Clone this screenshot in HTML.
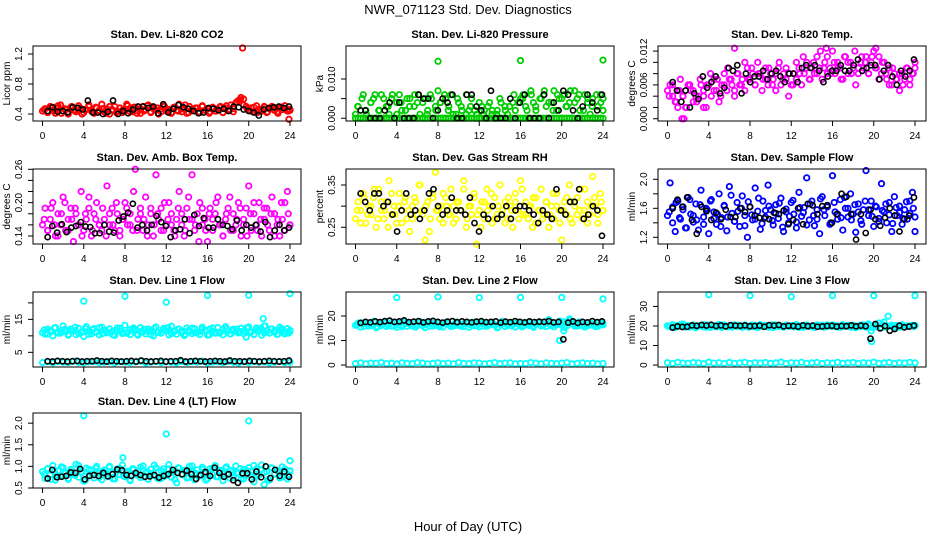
<!DOCTYPE html>
<html><head><meta charset="utf-8"><style>
html,body{margin:0;padding:0;background:#fff;}
svg{display:block;font-family:"Liberation Sans",Arial,sans-serif;}
</style></head><body>
<svg id="chart" width="936" height="540" viewBox="0 0 936 540" xmlns="http://www.w3.org/2000/svg">
<rect width="936" height="540" fill="#fff"/>
<text x="468" y="14" text-anchor="middle" font-size="13">NWR_071123  Std. Dev. Diagnostics</text>
<text x="468" y="531" text-anchor="middle" font-size="13">Hour of Day (UTC)</text>
<g id="panels"></g>
</svg>
<script>
const xTicks=[0,4,8,12,16,20,24];
const co2Red=[0.44,0.47,0.42,0.50,0.45,0.41,0.48,0.52,0.44,0.46,0.40,0.49,0.45,0.43,0.51,0.47,0.42,0.46,0.50,0.44,0.41,0.48,0.45,0.53,0.43,0.47,0.40,0.46,0.50,0.44,0.48,0.42,0.45,0.51,0.47,0.43,0.49,0.44,0.41,0.50,0.46,0.52,0.43,0.48,0.45,0.40,0.47,0.51,0.44,0.46,0.42,0.49,0.45,0.53,0.43,0.47,0.41,0.50,0.46,0.44,0.48,0.42,0.51,0.45,0.47,0.43,0.49,0.44,0.46,0.50,0.42,0.48,0.45,0.52,0.47,0.55,0.58,0.62,0.60,0.50,0.45,0.48,0.43,0.51,0.46,0.44,0.49,0.42,0.47,0.50,0.45,0.43,0.48,0.46,0.51,0.44,0.45];
const co2Red2=[0.46,0.42,0.49,0.44,0.51,0.41,0.47,0.43,0.50,0.45,0.48,0.40,0.46,0.52,0.43,0.49,0.44,0.47,0.41,0.50,0.45,0.42,0.48,0.46,0.53,0.43,0.49,0.41,0.47,0.44,0.51,0.42,0.46,0.48,0.43,0.50,0.45,0.41,0.49,0.44,0.47,0.52,0.42,0.46,0.48,0.43,0.50,0.45,0.41,0.47,0.44,0.49,0.42,0.51,0.46,0.43,0.56,0.59,0.52,0.47,0.44,0.49,0.42,0.46,0.50,0.43,0.48,0.45,0.41,0.49,0.47,0.44,0.46];
const co2Black=[0.44,0.49,0.43,0.44,0.42,0.49,0.48,0.46,0.58,0.42,0.42,0.40,0.43,0.58,0.40,0.44,0.41,0.46,0.50,0.50,0.48,0.50,0.41,0.53,0.42,0.47,0.52,0.49,0.47,0.44,0.41,0.42,0.48,0.47,0.45,0.47,0.44,0.50,0.49,0.46,0.44,0.42,0.38,0.46,0.48,0.49,0.50,0.48,0.50];
const co2OutHours=[19.4,23.9];
const co2OutVals=[1.28,0.33];

const presGreen=[0.001,0.003,0,0.006,0.002,0,0.004,0.005,0,0.002,0.006,0,0.003,0.001,0.005,0,0.004,0.006,0.002,0,0.005,0.003,0,0.006,0.004,0.001,0,0.005,0.002,0.006,0,0.003,0.007,0.004,0,0.005,0.002,0.006,0,0.001,0.004,0.003,0,0.006,0.002,0.005,0,0.001,0,0.003,0.002,0,0.004,0.001,0,0.002,0.005,0,0.003,0.001,0,0.004,0.002,0,0.005,0.006,0.003,0,0.007,0.004,0.002,0,0.005,0.006,0.003,0,0.004,0.007,0.002,0.005,0,0.006,0.003,0.004,0,0.007,0.005,0.002,0,0.006,0.004,0.001,0.005,0,0.003,0.006,0.002];
const presGreen2=[0.003,0.005,0.001,0.004,0.006,0.002,0.005,0.003,0.006,0.001,0.004,0.002,0.005,0.003,0.006,0.004,0.001,0.005,0.002,0.004,0.006,0.003,0.001,0.005,0.002,0.001,0.003,0.002,0.004,0.001,0.003,0.002,0.001,0.004,0.002,0.003,0.006,0.004,0.005,0.002,0.006,0.003,0.005,0.007,0.004,0.002,0.006,0.005,0.003,0.007,0.004,0.006,0.002,0.005,0.003,0.006,0.004,0.005];
const presZero=[0,0,0,0,0,0,0,0,0,0,0,0,0,0,0,0,0,0,0,0,0,0,0,0,0,0,0,0,0,0,0,0,0,0,0,0,0,0,0,0,0,0,0,0,0,0,0,0,0,0,0,0,0,0,0,0,0,0,0,0,0,0,0,0,0,0,0,0,0,0,0,0,0,0,0,0,0,0,0,0,0,0,0,0,0,0,0,0,0,0,0,0,0,0,0,0,0];
const presBlack=[0.002,0.002,0,0,0,0.002,0.004,0,0.004,0,0,0,0.006,0.005,0.005,0,0.002,0.005,0.004,0.006,0,0,0.006,0.006,0.003,0.002,0,0.007,0,0,0,0.005,0,0.004,0.006,0,0,0,0.006,0,0.004,0.002,0.007,0.006,0.002,0,0.003,0.006,0.004,0.002,0.006];
const presOutHours=[8,16,24];
const presOutVals=[0.0145,0.0147,0.0148];

const tempMag=[0.005,0.006,0.004,0.003,0.005,0.007,0.004,0.002,0.006,0.005,0.003,0.004,0.004,0.006,0.005,0.002,0.006,0.004,0.007,0.005,0.003,0.006,0.008,0.005,0.007,0.006,0.004,0.008,0.006,0.007,0.005,0.009,0.007,0.008,0.006,0.010,0.008,0.007,0.009,0.006,0.008,0.007,0.005,0.009,0.006,0.008,0.007,0.004,0.006,0.008,0.007,0.009,0.006,0.008,0.010,0.007,0.009,0.008,0.011,0.009,0.007,0.010,0.008,0.009,0.012,0.008,0.010,0.009,0.007,0.011,0.008,0.010,0.009,0.006,0.008,0.010,0.009,0.011,0.008,0.010,0.012,0.009,0.011,0.008,0.010,0.007,0.009,0.006,0.008,0.007,0.005,0.008,0.007,0.009,0.006,0.008,0.010];
const tempMag2=[0.004,0.006,0.003,0.005,0.004,0.002,0.006,0.005,0.003,0.007,0.004,0.006,0.008,0.005,0.007,0.004,0.006,0.009,0.007,0.005,0.008,0.006,0.010,0.007,0.009,0.006,0.008,0.005,0.007,0.009,0.006,0.008,0.010,0.007,0.009,0.008,0.006,0.010,0.008,0.011,0.009,0.007,0.010,0.008,0.012,0.009,0.011,0.008,0.010,0.009,0.007,0.011,0.010,0.008,0.012,0.009,0.011,0.010,0.008,0.011,0.009,0.007,0.010,0.008,0.006,0.009,0.007,0.008,0.006,0.009,0.007,0.008,0.009];
const tempBlack=[0.0065,0.005,0.003,0.005,0.002,0.0045,0.0035,0.0075,0.0055,0.0065,0.0075,0.0045,0.0055,0.009,0.0085,0.0095,0.0045,0.008,0.0065,0.0075,0.0075,0.0085,0.007,0.008,0.0085,0.0075,0.0065,0.008,0.008,0.0065,0.009,0.0095,0.009,0.0095,0.0085,0.0065,0.0075,0.0085,0.0085,0.0095,0.0085,0.0085,0.0095,0.0105,0.0085,0.009,0.0095,0.0095,0.007,0.0085,0.0095,0.0075,0.006,0.0085,0.0075,0.0085,0.0105];
const tempOutHours=[1.4,1.6,6.5,15.4,20.2,1.0,3.5];
const tempOutVals=[0,0,0.0125,0.0125,0.0125,0.002,0.002];

const ambMag=[0.16,0.19,0.15,0.17,0.20,0.14,0.18,0.16,0.21,0.15,0.17,0.19,0.13,0.18,0.16,0.22,0.15,0.17,0.19,0.14,0.18,0.20,0.16,0.15,0.17,0.23,0.16,0.19,0.15,0.18,0.14,0.17,0.20,0.16,0.18,0.15,0.26,0.17,0.19,0.15,0.21,0.16,0.18,0.14,0.25,0.17,0.19,0.15,0.16,0.20,0.18,0.15,0.17,0.22,0.16,0.14,0.19,0.17,0.25,0.15,0.18,0.20,0.16,0.17,0.13,0.19,0.15,0.18,0.21,0.16,0.14,0.17,0.19,0.15,0.18,0.16,0.20,0.14,0.17,0.19,0.23,0.15,0.18,0.16,0.20,0.14,0.17,0.19,0.15,0.21,0.18,0.16,0.14,0.17,0.20,0.22,0.16];
const ambMag2=[0.17,0.15,0.19,0.16,0.14,0.18,0.20,0.15,0.17,0.19,0.16,0.14,0.18,0.21,0.15,0.17,0.16,0.19,0.14,0.18,0.16,0.20,0.15,0.17,0.19,0.16,0.22,0.15,0.18,0.17,0.14,0.19,0.16,0.18,0.15,0.20,0.17,0.16,0.14,0.19,0.18,0.15,0.21,0.17,0.16,0.13,0.19,0.15,0.18,0.17,0.20,0.16,0.14,0.18,0.21,0.15,0.17,0.19,0.16,0.14,0.18,0.20,0.15,0.17,0.19,0.16,0.18,0.14,0.17,0.20,0.15,0.18,0.16];
const ambBlack=[0.138,0.158,0.146,0.161,0.147,0.155,0.158,0.165,0.157,0.156,0.145,0.145,0.16,0.148,0.146,0.168,0.175,0.182,0.198,0.155,0.160,0.150,0.160,0.176,0.165,0.158,0.138,0.150,0.152,0.170,0.145,0.178,0.158,0.172,0.155,0.155,0.170,0.160,0.158,0.152,0.168,0.150,0.160,0.155,0.160,0.148,0.165,0.138,0.150,0.160,0.150,0.155];

const rhYellow=[0.27,0.31,0.29,0.33,0.26,0.30,0.28,0.32,0.25,0.34,0.29,0.27,0.31,0.36,0.28,0.30,0.26,0.33,0.29,0.31,0.27,0.24,0.30,0.32,0.28,0.35,0.29,0.22,0.31,0.27,0.33,0.38,0.29,0.30,0.26,0.32,0.28,0.34,0.30,0.27,0.31,0.29,0.36,0.25,0.30,0.28,0.33,0.21,0.29,0.31,0.27,0.34,0.30,0.26,0.32,0.28,0.35,0.29,0.31,0.27,0.30,0.25,0.33,0.29,0.36,0.28,0.31,0.27,0.30,0.32,0.26,0.29,0.34,0.28,0.31,0.25,0.30,0.27,0.33,0.29,0.22,0.31,0.28,0.35,0.26,0.30,0.32,0.29,0.27,0.34,0.31,0.28,0.37,0.30,0.26,0.33,0.29];
const rhYellow2=[0.29,0.26,0.32,0.28,0.30,0.34,0.27,0.31,0.29,0.25,0.33,0.28,0.30,0.26,0.32,0.29,0.27,0.31,0.35,0.28,0.30,0.24,0.32,0.29,0.27,0.33,0.30,0.28,0.26,0.31,0.29,0.34,0.27,0.30,0.32,0.28,0.25,0.31,0.29,0.33,0.27,0.30,0.28,0.26,0.32,0.29,0.31,0.27,0.34,0.28,0.30,0.25,0.32,0.29,0.27,0.31,0.28,0.33,0.30,0.26,0.29,0.32,0.27,0.31,0.28,0.34,0.29,0.26,0.30,0.32,0.28,0.31,0.29];
const rhBlack=[0.33,0.31,0.29,0.33,0.33,0.30,0.31,0.28,0.24,0.29,0.33,0.28,0.29,0.27,0.29,0.33,0.34,0.30,0.28,0.29,0.32,0.29,0.29,0.28,0.32,0.26,0.24,0.28,0.27,0.30,0.27,0.28,0.30,0.27,0.29,0.30,0.30,0.29,0.28,0.26,0.29,0.28,0.27,0.34,0.29,0.28,0.31,0.31,0.34,0.27,0.28,0.30,0.29,0.23];

const flowBlue=[1.50,1.95,1.62,1.28,1.70,1.45,1.58,1.33,1.75,1.52,1.41,1.66,1.30,1.85,1.48,1.60,1.25,1.72,1.55,1.38,1.80,1.47,1.63,1.29,1.90,1.53,1.42,1.68,1.35,1.77,1.50,1.20,1.62,1.44,1.88,1.56,1.31,1.70,1.48,1.92,1.58,1.37,1.65,1.46,1.74,1.28,1.55,1.40,1.68,1.52,1.33,1.82,1.49,1.61,2.02,1.44,1.70,1.36,1.58,1.25,1.76,1.50,1.64,1.38,2.05,1.55,1.45,1.72,1.30,1.60,1.48,1.80,1.52,1.27,1.66,1.43,1.58,2.12,1.50,1.70,1.35,1.62,1.46,1.94,1.55,1.40,1.68,1.28,1.76,1.50,1.63,1.38,1.58,1.45,1.70,1.82,1.28];
const flowBlue2=[1.55,1.40,1.68,1.47,1.62,1.33,1.72,1.50,1.44,1.65,1.38,1.58,1.70,1.46,1.52,1.35,1.64,1.48,1.78,1.42,1.56,1.60,1.36,1.69,1.51,1.45,1.74,1.39,1.57,1.63,1.43,1.53,1.67,1.34,1.59,1.49,1.71,1.41,1.61,1.54,1.37,1.66,1.50,1.45,1.73,1.58,1.62,1.40,1.68,1.52,1.47,1.75,1.60,1.44,1.65,1.55,1.38,1.70,1.58,1.49,1.63,1.42,1.57,1.66,1.51,1.39,1.61,1.54,1.46,1.69,1.53,1.60,1.48];
const flowBlack=[1.60,1.72,1.62,1.75,1.44,1.25,1.62,1.56,1.44,1.54,1.45,1.58,1.48,1.48,1.60,1.55,1.62,1.50,1.47,1.46,1.45,1.54,1.52,1.57,1.38,1.44,1.60,1.38,1.66,1.64,1.52,1.63,1.64,1.40,1.52,1.80,1.76,1.52,1.17,1.52,1.26,1.58,1.45,1.36,1.47,1.60,1.50,1.28,1.45,1.50,1.75];

const l1High=[11,10.5,12,11.5,10,12.5,11,10.8,13,11.2,10.2,12,11.6,10.4,12.3,11,9.8,12.8,11.4,10.6,12.2,11.1,10.3,12.6,11.7,10.9,12.1,11.3,10.1,12.4,11.5,10.7,13.2,11,10.4,12,11.8,10.2,12.5,11.2,10.6,12.1,11.4,10,12.7,11.1,10.8,12.3,11.6,10.3,12.9,11.2,10.5,12,11.5,10.1,12.4,11.3,10.7,12.2,11,10.4,12.6,11.7,10.2,12.1,11.4,10.8,12.5,11.1,10.3,12.8,11.6,10.6,12,11.3,10.9,12.3,11.5,9.6,12.7,11.2,10.5,12.4,11.7,10.2,13,11.4,10.8,12.1,11.1,10.4,12.6,11.8,10.6,12.2,11.3];
const l1High2=[11.8,10.6,11.2,12.4,10.9,11.5,12.0,10.4,11.7,12.6,10.8,11.3,12.2,10.5,11.9,11.1,12.5,10.7,11.4,12.1,10.3,11.6,12.3,11.0,10.8,11.9,12.4,10.6,11.3,12.0,11.5,10.4,12.2,11.1,10.9,11.8,12.5,10.7,11.4,12.1,11.0,10.5,11.7,12.3,10.9,11.2,12.0,11.6,10.3,12.4,11.1,10.8,11.9,12.2,10.6,11.5,12.0,11.3,10.7,12.5,11.0,10.4,11.8,12.3,10.9,11.4,12.1,11.6,10.5,12.2,11.2,10.8,11.7];
const l1Low=[1.9,2.1,1.8,2.2,2.0,1.9,2.3,2.0,1.8,2.1,2.2,1.9,2.0,2.1,1.8,2.2,2.0,1.9,2.1,2.3,1.8,2.0,2.2,1.9,2.1,2.0,1.8,2.2,1.9,2.1,2.0,2.3,1.8,2.0,2.1,1.9,2.2,2.0,1.8,2.1,1.9,2.2,2.0,2.1,1.8,2.0,2.2,1.9,2.0];
const l1Black=[2.3,2.2,2.4,2.3,2.2,2.3,2.4,2.2,2.3,2.3,2.5,2.3,2.2,2.4,2.3,2.2,2.3,2.4,2.2,2.5,2.3,2.2,2.3,2.4,2.2,2.3,2.3,2.6,2.2,2.3,2.4,2.3,2.2,2.3,2.4,2.3,2.2,2.5,2.3,2.3,2.2,2.4,2.3,2.2,2.3,2.4,2.3,2.2,2.3,2.5];
const l1OutHours=[4,8,12,16,20,24,21.4,21.6];
const l1OutVals=[20.5,22,20.2,22.2,22.3,22.8,15.2,13];

const l2High=[16.2,17.1,15.5,16.8,17.4,15.9,16.5,17.8,15.2,16.9,16.1,17.3,15.7,16.6,17.5,16.0,15.4,17.0,16.4,17.6,15.8,16.7,17.2,15.6,16.3,17.7,16.0,15.3,16.9,17.4,15.9,16.5,17.1,16.2,15.5,17.3,16.8,15.7,16.4,17.6,16.1,15.8,16.9,17.2,15.4,16.6,17.5,16.0,15.6,16.8,17.0,15.9,16.3,17.4,16.5,15.2,16.7,17.8,15.7,16.2,17.1,16.6,15.5,17.3,16.0,15.8,16.9,17.5,16.3,15.4,16.6,17.2,15.9,16.4,17.7,18.5,16.1,15.6,16.8,17.0,16.2,15.3,17.4,18.8,16.7,15.9,16.5,17.6,16.0,15.5,17.1,16.3,16.8,15.7,17.3,16.4,17.0];
const l2High2=[16.5,17.2,15.8,16.9,16.1,17.5,15.6,16.7,17.0,16.3,15.9,17.3,16.6,15.7,16.8,17.4,16.0,15.5,17.1,16.4,16.9,15.8,17.2,16.2,15.6,16.8,17.5,16.1,15.9,17.0,16.5,15.7,17.3,16.3,16.0,16.9,17.4,15.8,16.6,17.1,16.2,15.5,16.8,17.2,16.4,15.9,17.0,16.6,15.6,17.3,16.1,15.8,16.9,17.5,16.3,15.7,16.7,17.1,16.4,18.0,17.6,16.0,18.2,16.8,15.9,17.2,16.5,16.1,17.0,16.6,15.8,17.3,16.4];
const l2Low=[0.6,0.9,0.5,0.8,0.7,1.0,0.6,0.8,0.5,0.9,0.7,0.6,1.0,0.8,0.5,0.7,0.9,0.6,0.8,0.5,1.0,0.7,0.6,0.9,0.8,0.5,0.7,1.0,0.6,0.8,0.9,0.5,0.7,0.6,1.0,0.8,0.5,0.9,0.7,0.6,0.8,1.0,0.5,0.7,0.9,0.6,0.8,0.5,0.7];
const l2Black=[17.2,17.6,17.4,17.8,17.5,17.9,18.1,17.6,17.8,18.2,17.5,17.7,17.9,17.4,17.8,18.0,17.6,17.3,17.7,17.9,17.5,17.8,17.6,17.4,17.7,17.9,17.5,17.6,17.8,17.3,17.7,17.5,17.9,17.6,17.4,17.8,17.5,17.7,17.6,17.9,17.4,17.6,10.5,17.3,17.8,17.2,17.6,17.4,17.9,17.5,17.8];
const l2OutHours=[4,8,12,16,20,24,19.8,20.2];
const l2OutVals=[27.5,27.8,27.5,27.6,27.6,27.0,10.0,14.0];

const l3High=[20.1,19.5,20.6,19.2,20.3,19.8,21.0,19.4,20.2,19.7,20.5,19.1,20.0,19.9,20.7,19.3,20.4,19.6,20.1,19.5,20.8,19.2,20.3,19.8,20.0,19.4,20.6,19.7,20.2,19.3,20.5,19.9,20.0,19.6,20.4,19.1,20.7,19.8,20.1,19.5,20.3,19.2,20.6,19.7,20.0,19.4,20.5,19.9,20.2,19.6,20.8,19.3,20.1,19.5,20.4,19.8,20.0,19.2,20.6,19.7,20.3,19.4,20.1,19.9,20.5,19.6,20.0,19.3,20.7,19.8,20.2,19.5,20.4,19.1,20.0,19.7,20.6,19.4,20.3,17.5,20.1,19.6,21.5,19.2,22.0,20.0,19.8,20.4,19.5,20.2,19.3,20.6,19.7,20.1,19.9,20.3,20.0];
const l3High2=[19.8,20.3,19.5,20.6,19.9,20.1,19.4,20.4,19.7,20.2,19.6,20.5,19.3,20.0,20.3,19.8,20.6,19.5,20.1,19.9,20.4,19.6,20.2,19.3,20.5,19.8,20.0,19.7,20.3,19.4,20.6,19.9,20.1,19.5,20.4,19.8,20.2,19.6,20.0,19.3,20.5,19.7,20.1,19.9,20.3,19.4,20.6,19.8,20.2,19.5,20.0,19.7,20.4,19.3,20.1,19.9,20.5,19.6,21.0,19.2,20.3,21.5,20.8,19.4,20.0,19.7,20.2,19.5,20.4,19.8,20.1,19.6,20.3];
const l3Low=[1.2,0.8,1.4,1.0,0.9,1.3,1.1,0.7,1.5,1.0,1.2,0.8,1.3,0.9,1.1,1.4,0.8,1.2,1.0,1.3,0.9,1.1,1.5,0.8,1.2,1.0,1.4,0.9,1.1,1.3,0.8,1.2,1.0,1.4,0.9,1.1,1.3,0.8,1.2,1.0,1.5,0.9,1.1,1.3,0.8,1.2,1.0,1.4,1.1];
const l3Black=[19.2,19.8,19.5,19.6,20.3,20.1,20.5,20.2,20.6,20.0,20.3,19.8,20.4,20.2,20.1,20.3,19.9,20.0,20.2,19.6,20.4,20.2,20.5,19.8,20.1,20.0,19.7,20.3,19.9,20.2,19.6,19.8,20.0,20.1,19.7,20.0,19.9,20.3,19.8,20.2,19.9,13.5,21.0,18.8,20.0,17.6,18.5,20.2,19.3,19.7,20.2];
const l3OutHours=[4,8,12,16,20,24,21.4,19.8];
const l3OutVals=[36,35.5,35,35.5,35.5,35.5,25,12];

const l4Cyan=[0.88,0.72,0.95,0.80,1.02,0.68,0.90,0.78,0.97,0.85,0.70,0.93,0.82,1.05,0.75,0.88,0.66,0.96,0.80,0.91,0.73,1.00,0.84,0.69,0.92,0.78,0.98,0.86,0.71,0.94,0.81,1.03,0.76,0.89,0.67,0.95,0.83,0.90,0.74,1.01,0.85,0.70,0.93,0.79,0.97,0.87,0.72,0.94,0.80,1.04,0.75,0.88,0.62,0.96,0.82,0.91,0.73,1.00,0.86,0.69,0.92,0.78,0.98,0.84,0.71,0.95,0.81,1.02,0.76,0.89,0.67,0.96,0.83,0.90,0.74,1.01,0.85,0.70,0.93,0.79,0.97,0.87,0.64,0.94,0.80,1.03,0.58,0.88,0.68,0.96,0.82,0.91,0.73,0.99,0.86,0.71,0.90];
const l4Cyan2=[0.82,0.94,0.70,0.88,0.76,0.99,0.84,0.72,0.91,0.79,1.02,0.86,0.68,0.93,0.81,0.96,0.74,0.89,0.83,1.00,0.71,0.87,0.95,0.78,0.85,0.69,0.92,0.80,0.98,0.75,0.88,0.83,1.03,0.72,0.90,0.77,0.94,0.86,0.70,0.97,0.81,0.89,0.74,1.01,0.84,0.79,0.93,0.68,0.87,0.96,0.76,0.91,0.82,0.99,0.73,0.88,0.85,0.95,0.71,0.90,0.80,1.02,0.77,0.92,0.86,0.69,0.97,0.83,0.89,0.75,0.94,0.81,0.88];
const l4Black=[0.72,0.92,0.75,0.76,0.78,0.86,0.85,0.94,0.70,0.78,0.80,0.78,0.85,0.77,0.82,0.93,0.91,0.80,0.78,0.85,0.80,0.76,0.77,0.80,0.74,0.78,0.82,0.92,0.85,0.82,0.90,0.82,0.71,0.80,0.87,0.78,0.97,0.85,0.76,0.82,0.68,0.62,0.84,0.84,0.70,0.88,0.75,1.00,0.73,0.92,0.78,0.88,0.76];
const l4OutHours=[4,12,20,7.8,24];
const l4OutVals=[2.17,1.75,2.05,1.2,1.13];

const NS="http://www.w3.org/2000/svg";
const colLeft=[33,346,658], rowTop=[46,169,292,413], boxW=268, boxH=75;
const panels=[
 {name:"co2",title:"Stan. Dev. Li-820 CO2",ylab:"Licor ppm",col:0,row:0,ymin:0.307,ymax:1.307,yt:[0.4,0.6,0.8,1.0,1.2],yl:["0.4","","0.8","","1.2"],color:"#ff0000",series:[co2Red,co2Red2],black:co2Black,oh:co2OutHours,ov:co2OutVals},
 {name:"pressure",title:"Stan. Dev. Li-820 Pressure",ylab:"kPa",col:1,row:0,ymin:-0.0007,ymax:0.0184,yt:[0,0.005,0.010],yl:["0.000","","0.010"],color:"#00cc00",series:[presGreen,presGreen2,presZero],black:presBlack,oh:presOutHours,ov:presOutVals},
 {name:"temp",title:"Stan. Dev. Li-820 Temp.",ylab:"degrees C",col:2,row:0,ymin:-0.0004,ymax:0.0129,yt:[0,0.002,0.004,0.006,0.008,0.010,0.012],yl:["0.000","","","0.006","","","0.012"],color:"#ff00ff",series:[tempMag,tempMag2],black:tempBlack,oh:tempOutHours,ov:tempOutVals},
 {name:"amb-box-temp",title:"Stan. Dev. Amb. Box Temp.",ylab:"degrees C",col:0,row:1,ymin:0.1256,ymax:0.2605,yt:[0.14,0.16,0.18,0.20,0.22,0.24,0.26],yl:["0.14","","","0.20","","","0.26"],color:"#ff00ff",series:[ambMag,ambMag2],black:ambBlack,oh:[],ov:[]},
 {name:"gas-rh",title:"Stan. Dev. Gas Stream RH",ylab:"percent",col:1,row:1,ymin:0.2105,ymax:0.3878,yt:[0.25,0.30,0.35],yl:["0.25","","0.35"],color:"#ffff00",series:[rhYellow,rhYellow2],black:rhBlack,oh:[],ov:[]},
 {name:"sample-flow",title:"Stan. Dev. Sample Flow",ylab:"ml/min",col:2,row:1,ymin:1.108,ymax:2.142,yt:[1.2,1.4,1.6,1.8,2.0],yl:["1.2","","1.6","","2.0"],color:"#0000ff",series:[flowBlue,flowBlue2],black:flowBlack,oh:[],ov:[]},
 {name:"line1-flow",title:"Stan. Dev. Line 1 Flow",ylab:"ml/min",col:0,row:2,ymin:0.55,ymax:23.3,yt:[5,10,15,20],yl:["5","","15",""],color:"#00ffff",series:[l1High,l1High2,l1Low],black:l1Black,oh:l1OutHours,ov:l1OutVals},
 {name:"line2-flow",title:"Stan. Dev. Line 2 Flow",ylab:"ml/min",col:1,row:2,ymin:-0.8,ymax:29.8,yt:[0,10,20],yl:["0","10","20"],color:"#00ffff",series:[l2High,l2High2,l2Low],black:l2Black,oh:l2OutHours,ov:l2OutVals},
 {name:"line3-flow",title:"Stan. Dev. Line 3 Flow",ylab:"ml/min",col:2,row:2,ymin:-1.0,ymax:37.4,yt:[0,10,20,30],yl:["0","10","20","30"],color:"#00ffff",series:[l3High,l3High2,l3Low],black:l3Black,oh:l3OutHours,ov:l3OutVals},
 {name:"line4-flow",title:"Stan. Dev. Line 4 (LT) Flow",ylab:"ml/min",col:0,row:3,ymin:0.5,ymax:2.235,yt:[0.5,1.0,1.5,2.0],yl:["0.5","1.0","1.5","2.0"],color:"#00ffff",series:[l4Cyan,l4Cyan2],black:l4Black,oh:l4OutHours,ov:l4OutVals}
];
const root=document.getElementById('panels');
function mk(tag,attrs,parent){const e=document.createElementNS(NS,tag);for(const k in attrs)e.setAttribute(k,attrs[k]);parent.appendChild(e);return e;}
panels.forEach(p=>{
  const L=colLeft[p.col],T=rowTop[p.row];
  const xs=h=>L+9.5+h*(247.5/24);
  const ys=v=>T+boxH-(v-p.ymin)/(p.ymax-p.ymin)*boxH;
  const g=mk('g',{},root);
  
  
  const t=mk('text',{x:L+boxW/2,y:T-8,'text-anchor':'middle','font-size':'11','font-weight':'bold'},g);
  t.textContent=p.title;
  
  
  const pts=mk('g',{fill:'none','stroke-width':'1.8'},g);
  
  
  p.series.forEach((arr,si)=>{
    const off=si===1?24/(arr.length-1)/2:0;
    arr.forEach((v,i)=>{
      const h=Math.min(24,i*24/(arr.length-1)+off);
      const c=mk('circle',{cx:xs(h),cy:ys(v),r:2.7,stroke:p.color},pts);
      
      
    });
  });
  p.oh.forEach((h,i)=>{
    const c=mk('circle',{cx:xs(h),cy:ys(p.ov[i]),r:2.7,stroke:p.color},pts);
    
    
  });
  p.black.forEach((v,i)=>{
    const h=0.5+i*23.4/(p.black.length-1);
    const c=mk('circle',{cx:xs(h),cy:ys(v),r:2.6,stroke:'#000','stroke-width':'1.6'},pts);
    
    
  });
  const box=mk('rect',{x:L,y:T,width:boxW,height:boxH,fill:'none',stroke:'#000','stroke-width':'1'},g);
  
  
  const xa=mk('g',{stroke:'#000','stroke-width':'1'},g);
  
  
  mk('line',{x1:xs(0),x2:xs(24),y1:T+boxH,y2:T+boxH},xa);
  xTicks.forEach(h=>{
    mk('line',{x1:xs(h),x2:xs(h),y1:T+boxH,y2:T+boxH+5},xa);
    const tl=mk('text',{x:xs(h),y:T+boxH+18,'text-anchor':'middle','font-size':'10',stroke:'none',fill:'#000'},xa);
    tl.textContent=h;
    
    
  });
  const ya=mk('g',{stroke:'#000','stroke-width':'1'},g);
  
  
  mk('line',{x1:L,x2:L,y1:ys(p.yt[0]),y2:ys(p.yt[p.yt.length-1])},ya);
  p.yt.forEach((v,i)=>{
    mk('line',{x1:L-5,x2:L,y1:ys(v),y2:ys(v)},ya);
    if(p.yl[i]){
      const tx=L-11,ty=ys(v);
      const tl=mk('text',{x:tx,y:ty,'text-anchor':'middle','font-size':'10',stroke:'none',fill:'#000',transform:`rotate(-90 ${tx} ${ty})`},ya);
      tl.textContent=p.yl[i];
      
      
    }
  });
  const yx=L-23,yy=T+boxH/2;
  const yt=mk('text',{x:yx,y:yy,'text-anchor':'middle','font-size':'10',transform:`rotate(-90 ${yx} ${yy})`},g);
  yt.textContent=p.ylab;
  
  
});
</script>
</body></html>
